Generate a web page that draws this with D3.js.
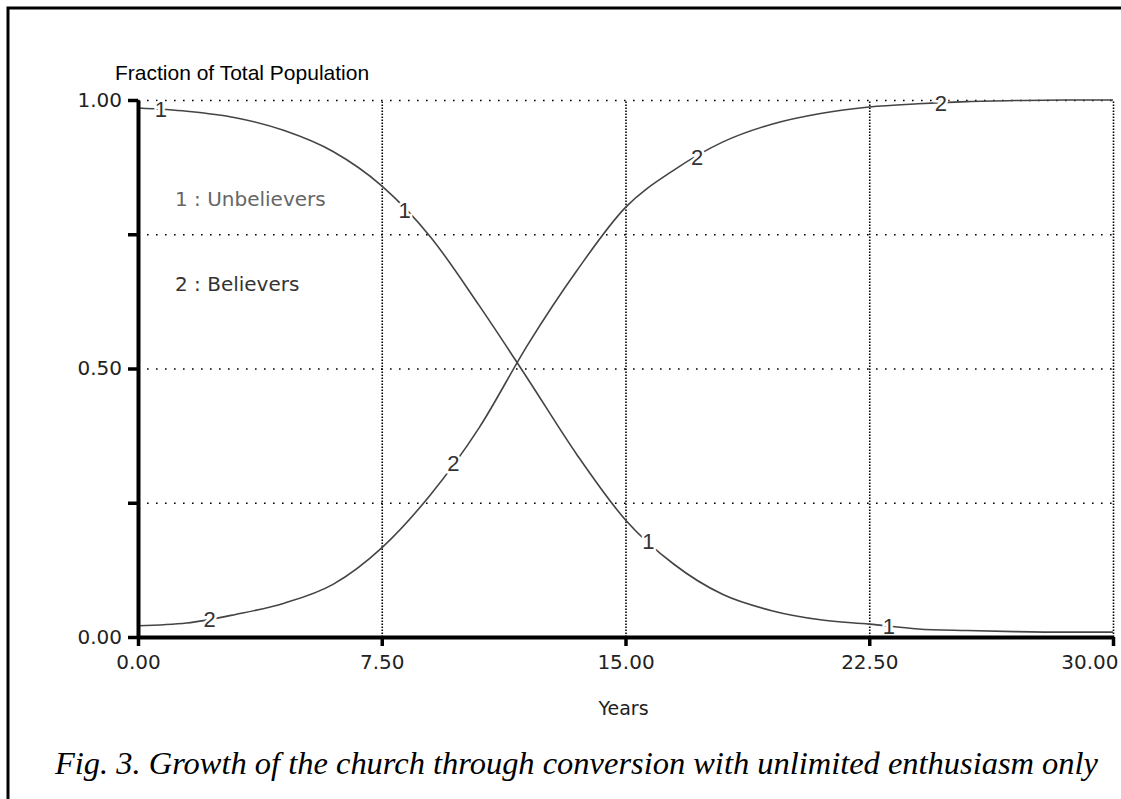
<!DOCTYPE html>
<html>
<head>
<meta charset="utf-8">
<script src="https://d3js.org/d3.v7.min.js"></script>
<style>
  body { margin: 0; background: #fff; }
  svg { display: block; }
  .grid line { stroke: #000; stroke-width: 1.6; }
  .grid path { display: none; }
  .axis text { font-family: "DejaVu Sans", sans-serif; font-size: 20px; fill: #222; }
</style>
</head>
<body>
<script>
// values
var years = [0, 1.5, 3, 4.5, 6, 7.5, 9, 10.5, 12, 13.5, 15, 16.5, 18, 19.5, 21, 22.5, 24, 25.5, 27, 28.5, 30];
var unbelievers = [0.985, 0.979, 0.967, 0.943, 0.904, 0.840, 0.745, 0.617, 0.480, 0.340, 0.218, 0.135, 0.079, 0.049, 0.032, 0.024, 0.015, 0.012, 0.010, 0.009, 0.009];
var believers = [0.021, 0.026, 0.042, 0.063, 0.098, 0.166, 0.265, 0.390, 0.545, 0.682, 0.800, 0.870, 0.922, 0.955, 0.975, 0.987, 0.993, 0.997, 0.999, 1.000, 1.000];

var xTicks = [0, 7.5, 15, 22.5, 30];
var yTicks = [0, 0.25, 0.5, 0.75, 1];
var seriesNames = ["1 : Unbelievers", "2 : Believers"];
// where the little "1" / "2" markers sit on the curves (years)
var labelYears1 = [0.7, 8.2, 15.7, 23.1];
var labelYears2 = [2.2, 9.7, 17.2, 24.7];

var margin = {top: 100, right: 8, bottom: 162, left: 138};
var width = 1121 - margin.left - margin.right;
var height = 799 - margin.top - margin.bottom;

var svg0 = d3.select('body')
    .append('svg')
    .attr('width', 1121)
    .attr('height', 799);

// outer frame (left and top edges only show)
svg0.append('path')
    .attr('d', 'M8,799V8H1121')
    .attr('fill', 'none')
    .attr('stroke', '#000')
    .attr('stroke-width', 3);

var svg = svg0.append('g')
    .attr('transform', 'translate(' + margin.left + ',' + margin.top + ')');

var xScale = d3.scaleLinear().domain([0, 30]).range([0, width]);
var yScale = d3.scaleLinear().domain([0, 1]).range([height, 0]);

// horizontal gridlines
svg.append("g")
    .attr("class", "grid")
    .call(d3.axisLeft(yScale).tickValues(yTicks.slice(1)).tickSize(-width).tickFormat(""))
    .selectAll("line")
    .attr("stroke-dasharray", "1.6,7.4");

// vertical gridlines
svg.append("g")
    .attr("class", "grid")
    .attr("transform", "translate(0," + height + ")")
    .call(d3.axisBottom(xScale).tickValues(xTicks.slice(1)).tickSize(-height).tickFormat(""))
    .selectAll("line")
    .attr("stroke-dasharray", "1.5,1.5");

// curves
var line = d3.line()
    .x(function(d) { return xScale(d[0]); })
    .y(function(d) { return yScale(d[1]); })
    .curve(d3.curveMonotoneX);

function pairs(vals) { return years.map(function(t, i) { return [t, vals[i]]; }); }

var curves = [
  {vals: unbelievers, mark: "1", at: labelYears1},
  {vals: believers, mark: "2", at: labelYears2}
];

curves.forEach(function(c) {
  svg.append("path")
      .datum(pairs(c.vals))
      .attr("fill", "none")
      .attr("stroke", "#444")
      .attr("stroke-width", 1.6)
      .attr("d", line);
});

// numbered markers on the curves
curves.forEach(function(c) {
  var interp = d3.scaleLinear().domain(years).range(c.vals);
  svg.selectAll(".mark" + c.mark)
      .data(c.at)
    .enter().append("text")
      .attr("x", function(d) { return xScale(d); })
      .attr("y", function(d) { return yScale(interp(d)); })
      .attr("dy", "0.36em")
      .attr("text-anchor", "middle")
      .attr("font-family", "Liberation Sans, Arial, sans-serif")
      .attr("font-size", "22px")
      .attr("fill", "#333")
      .attr("stroke", "#fff")
      .attr("stroke-width", 5)
      .attr("paint-order", "stroke")
      .text(c.mark);
});

// y axis
var yAxis = d3.axisLeft(yScale)
    .tickValues(yTicks)
    .tickSize(10)
    .tickSizeOuter(0)
    .tickPadding(6)
    .tickFormat(function(d) { return (d * 2) % 1 === 0 ? d.toFixed(2) : ""; });

var gy = svg.append("g")
    .attr("class", "axis")
    .call(yAxis);
gy.select(".domain").attr("stroke-width", 4);
gy.selectAll(".tick line").attr("stroke-width", 3.5);

// x axis
var xAxis = d3.axisBottom(xScale)
    .tickValues(xTicks)
    .tickSize(9)
    .tickSizeOuter(0)
    .tickPadding(9)
    .tickFormat(function(d) { return d.toFixed(2); });

var gx = svg.append("g")
    .attr("class", "axis")
    .attr("transform", "translate(0," + height + ")")
    .call(xAxis);
gx.select(".domain").attr("stroke-width", 4);
gx.selectAll(".tick line").attr("stroke-width", 3.5);
gx.selectAll(".tick text")
    .filter(function(d) { return d === 30; })
    .attr("text-anchor", "end")
    .attr("x", 5);

// axis titles
svg0.append("text")
    .attr("x", 115)
    .attr("y", 80)
    .attr("font-family", "Liberation Sans, Arial, sans-serif")
    .attr("font-size", "21px")
    .attr("fill", "#000")
    .text("Fraction of Total Population");

svg0.append("text")
    .attr("x", margin.left + width / 2 - 2)
    .attr("y", 715)
    .attr("text-anchor", "middle")
    .attr("font-family", "DejaVu Sans, sans-serif")
    .attr("font-size", "19px")
    .attr("fill", "#222")
    .text("Years");

// legend
svg0.selectAll(".legend")
    .data(seriesNames)
  .enter().append("text")
    .attr("class", "legend")
    .attr("x", 175)
    .attr("y", function(d, i) { return 206 + i * 85; })
    .attr("font-family", "DejaVu Sans, sans-serif")
    .attr("font-size", "20px")
    .attr("fill", function(d, i) { return i === 0 ? "#666" : "#333"; })
    .text(function(d) { return d; });

// caption
svg0.append("text")
    .attr("x", 55)
    .attr("y", 774)
    .attr("font-family", "Liberation Serif, Times New Roman, serif")
    .attr("font-style", "italic")
    .attr("font-size", "32px")
    .attr("textLength", 1043)
    .attr("lengthAdjust", "spacingAndGlyphs")
    .attr("fill", "#000")
    .text("Fig. 3. Growth of the church through conversion with unlimited enthusiasm only");
</script>
</body>
</html>
